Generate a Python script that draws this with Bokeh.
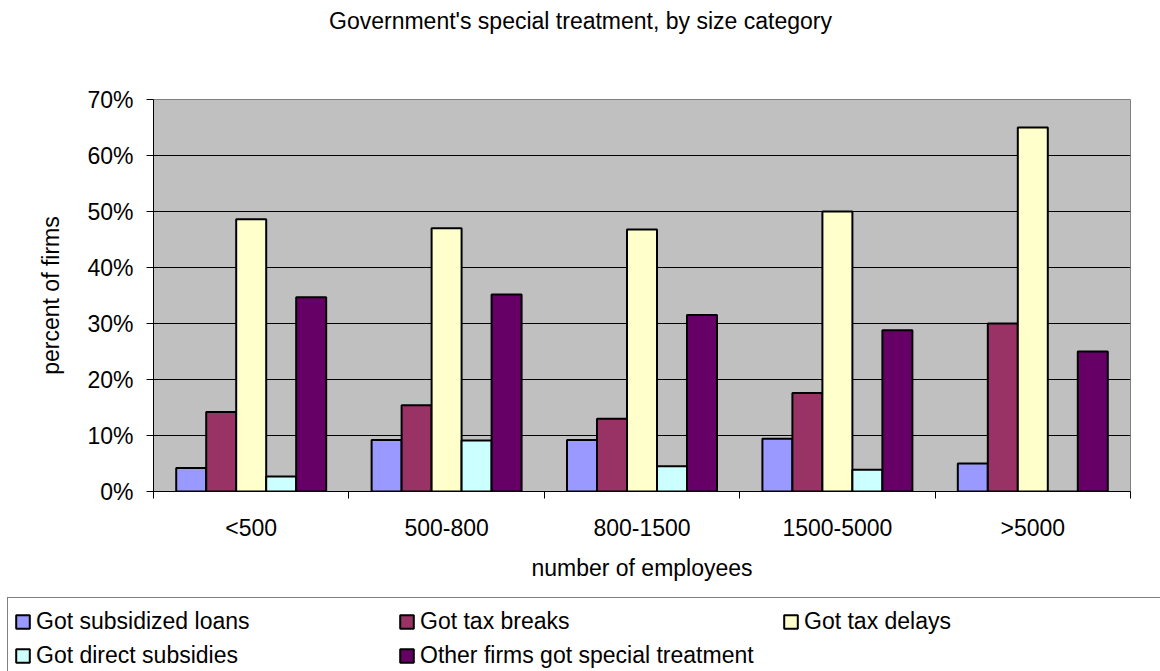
from bokeh.plotting import figure
from bokeh.layouts import column
from bokeh.models import (Range1d, FixedTicker, Legend, LegendItem,
                          PrintfTickFormatter, CustomJSTickFormatter)
from bokeh.embed import file_html
from bokeh.resources import INLINE

# ---- data ----
categories = ["<500", "500-800", "800-1500", "1500-5000", ">5000"]
series_names = ["Got subsidized loans", "Got tax breaks", "Got tax delays",
                "Got direct subsidies", "Other firms got special treatment"]
subsidized_loans = [4.2, 9.2, 9.2, 9.4, 5.0]
tax_breaks = [14.2, 15.4, 13.0, 17.6, 30.0]
tax_delays = [48.6, 47.0, 46.8, 50.0, 65.0]
direct_subsidies = [2.7, 9.1, 4.5, 3.9, 0.0]
other_special = [34.7, 35.2, 31.5, 28.8, 25.0]
y_ticks = [0, 10, 20, 30, 40, 50, 60, 70]
colors = ["#9999FF", "#993366", "#FFFFCC", "#CCFFFF", "#660066"]
title_text = "Government's special treatment, by size category"

series = [subsidized_loans, tax_breaks, tax_delays, direct_subsidies, other_special]

FONT = "Liberation Sans"
FS = "23px"
W = 1160

# ---- title strip ----
p0 = figure(width=W, height=60, output_backend="svg", toolbar_location=None,
            x_axis_location=None, y_axis_location=None,
            x_range=Range1d(0, 1), y_range=Range1d(0, 1),
            min_border_left=0, min_border_right=0, min_border_top=0,
            min_border_bottom=0)
p0.frame_align = False
p0.outline_line_color = None
p0.grid.grid_line_color = None
p0.title.text = title_text
p0.title.text_font = FONT
p0.title.text_font_size = FS
p0.title.text_font_style = "normal"
p0.title.text_color = "black"
p0.title.align = "center"
p0.title.standoff = 11

# ---- main chart ----
p = figure(width=W, height=535, output_backend="svg", toolbar_location=None,
           x_range=Range1d(0, len(categories)), y_range=Range1d(0, 70),
           min_border_left=153, min_border_right=30, min_border_top=39,
           min_border_bottom=104)
p.frame_align = False
p.background_fill_color = "#C0C0C0"
p.border_fill_color = "white"
p.outline_line_color = "#808080"
p.outline_line_width = 1

bar_w = 0.1535
group_centers = [i + 0.5 for i in range(len(categories))]
for k, (vals, col) in enumerate(zip(series, colors)):
    xs = [c + (k - 2) * bar_w for c in group_centers]
    p.vbar(x=xs, top=vals, bottom=0, width=bar_w, fill_color=col,
           line_color="black", line_width=2)

p.xgrid.grid_line_color = None
p.ygrid.ticker = FixedTicker(ticks=y_ticks)
p.ygrid.grid_line_color = "black"
p.ygrid.grid_line_width = 1

ya = p.yaxis[0]
ya.ticker = FixedTicker(ticks=y_ticks, minor_ticks=[])
ya.formatter = PrintfTickFormatter(format="%d%%")
ya.major_tick_out = 7
ya.major_tick_in = 0
ya.major_tick_line_color = "black"
ya.axis_line_color = "black"
ya.major_label_standoff = 13
ya.major_label_text_font = FONT
ya.major_label_text_font_size = FS
ya.major_label_text_color = "black"
ya.axis_label = "percent of firms"
ya.axis_label_text_font = FONT
ya.axis_label_text_font_size = FS
ya.axis_label_text_font_style = "normal"
ya.axis_label_text_color = "black"
ya.axis_label_standoff = 20

xa = p.xaxis[0]
xa.ticker = FixedTicker(ticks=group_centers,
                        minor_ticks=list(range(len(categories) + 1)))
xa.formatter = CustomJSTickFormatter(args=dict(cats=categories),
                                     code="return cats[Math.floor(tick)];")
xa.major_tick_line_color = None
xa.major_tick_out = 7
xa.major_tick_in = 0
xa.minor_tick_out = 7
xa.minor_tick_in = 0
xa.minor_tick_line_color = "black"
xa.axis_line_color = "black"
xa.major_label_standoff = 16
xa.major_label_text_font = FONT
xa.major_label_text_font_size = FS
xa.major_label_text_color = "black"
xa.axis_label = "number of employees"
xa.axis_label_text_font = FONT
xa.axis_label_text_font_size = FS
xa.axis_label_text_font_style = "normal"
xa.axis_label_text_color = "black"
xa.axis_label_standoff = 11

# ---- legend strip (same series, drawn far out of view; only the legend shows) ----
p2 = figure(width=W, height=76, output_backend="svg", toolbar_location=None,
            x_axis_location=None, y_axis_location=None,
            x_range=Range1d(0, len(categories)), y_range=Range1d(1000, 1010),
            min_border_left=0, min_border_right=0, min_border_top=0,
            min_border_bottom=0)
p2.frame_align = False
p2.outline_line_color = None
p2.grid.grid_line_color = None
proxies = []
for k, (vals, col) in enumerate(zip(series, colors)):
    xs = [c + (k - 2) * bar_w for c in group_centers]
    proxies.append(p2.vbar(x=xs, top=vals, bottom=0, width=bar_w, fill_color=col,
                           line_color="black", line_width=2))
items = [LegendItem(label=n, renderers=[r]) for n, r in zip(series_names, proxies)]
legend = Legend(items=items, ncols=3, orientation="horizontal",
                location=(7, -8),
                glyph_width=17, glyph_height=17, label_standoff=5,
                label_width=362, label_height=34, spacing=0, padding=6,
                label_text_font=FONT, label_text_font_size=FS,
                label_text_color="black",
                border_line_color="black", border_line_width=1,
                background_fill_color="white", background_fill_alpha=1.0,
                margin=0)
p2.add_layout(legend, "center")

layout = column(p0, p, p2, spacing=0)
open("out.html", "w").write(file_html(layout, INLINE))
